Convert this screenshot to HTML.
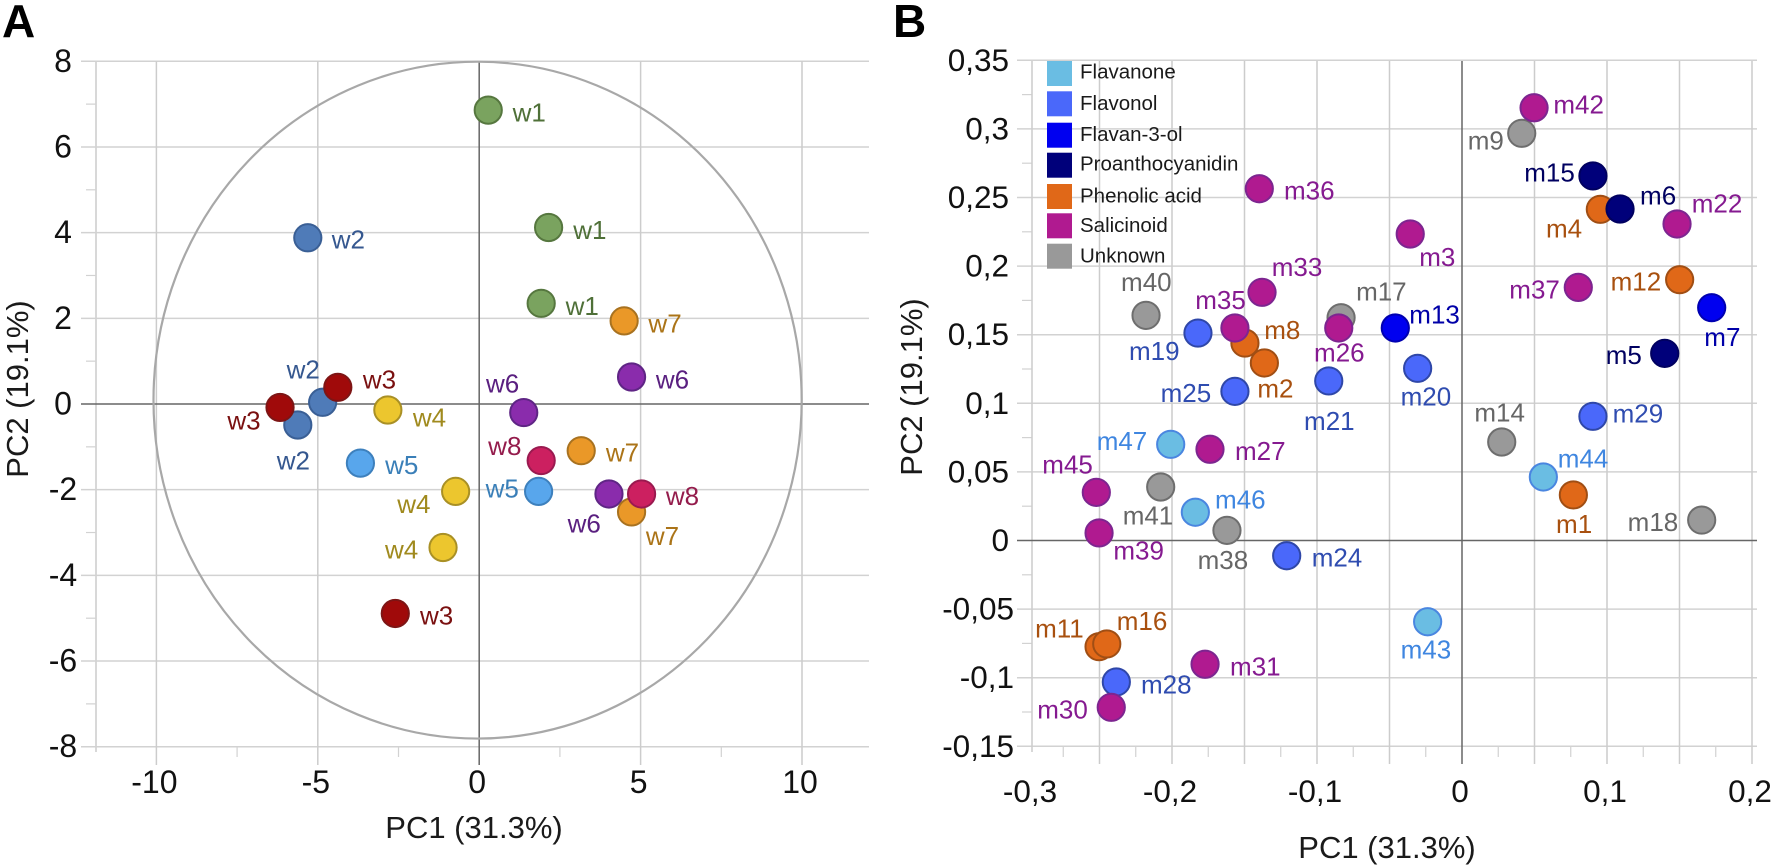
<!DOCTYPE html>
<html lang="en">
<head>
<meta charset="utf-8">
<title>PCA score and loading plots</title>
<style>
  html, body { margin: 0; padding: 0; background: #ffffff; }
  body { width: 1772px; height: 867px; overflow: hidden; }
  svg { display: block; font-family: "Liberation Sans", sans-serif; }
</style>
</head>
<body>
<svg id="figure" xmlns="http://www.w3.org/2000/svg" width="1772" height="867" viewBox="0 0 1772 867">
  <text x="2" y="37" font-size="46" font-weight="700" fill="#000">A</text>
  <text x="893" y="37" font-size="46" font-weight="700" fill="#000">B</text>
  <text x="474" y="838" font-size="31" fill="#1a1a1a" text-anchor="middle">PC1 (31.3%)</text>
  <text transform="translate(28 389) rotate(-90)" font-size="31" fill="#1a1a1a" text-anchor="middle">PC2 (19.1%)</text>
  <text x="1387" y="858" font-size="31" fill="#1a1a1a" text-anchor="middle">PC1 (31.3%)</text>
  <text transform="translate(922 387) rotate(-90)" font-size="31" fill="#1a1a1a" text-anchor="middle">PC2 (19.1%)</text>
  <g id="panelA"></g>
  <g id="panelB"></g>
</svg>
<script>
// ---------- Panel A data ----------
const samplesA = ['w1','w1','w1','w2','w2','w2','w3','w3','w3','w4','w4','w4','w5','w5','w6','w6','w6','w7','w7','w7','w8','w8'];
const pc1A = [0.28,2.15,1.92,-5.31,-4.85,-5.62,-4.38,-6.17,-2.60,-2.83,-0.73,-1.12,-3.68,1.84,4.72,1.38,4.02,4.49,3.16,4.72,1.92,5.03];
const pc2A = [6.86,4.12,2.35,3.88,0.04,-0.49,0.39,-0.08,-4.89,-0.14,-2.04,-3.35,-1.38,-2.04,0.63,-0.20,-2.10,1.94,-1.09,-2.52,-1.32,-2.10];
const xTicksA = [-10,-5,0,5,10];
const xTickLabelsA = ['-10','-5','0','5','10'];
const xMinorA = [-7.5,-2.5,2.5,7.5];
const yTicksA = [8,6,4,2,0,-2,-4,-6,-8];
const yTickLabelsA = ['8','6','4','2','0','-2','-4','-6','-8'];
const yMinorA = [7,5,3,1,-1,-3,-5,-7];
const confidenceCenterA = [-0.05,0.09];
const confidenceRadiiA = [10.04,7.9];

// ---------- Panel B data ----------
const metabolites = ['m1','m2','m3','m4','m5','m6','m7','m8','m9','m11','m12','m13','m14','m15','m16','m17','m18','m19','m20','m21','m22','m24','m25','m26','m27','m28','m29','m30','m31','m33','m35','m36','m37','m38','m39','m40','m41','m42','m43','m44','m45','m46','m47'];
const classesB = ['phenolic','phenolic','salicinoid','phenolic','proantho','proantho','flavanol','phenolic','unknown','phenolic','phenolic','flavanol','unknown','proantho','phenolic','unknown','unknown','flavonol','flavonol','flavonol','salicinoid','flavonol','flavonol','salicinoid','salicinoid','flavonol','flavonol','salicinoid','salicinoid','salicinoid','salicinoid','salicinoid','salicinoid','unknown','salicinoid','unknown','unknown','salicinoid','flavanone','flavanone','salicinoid','flavanone','flavanone'];
const pc1B = [0.0768,-0.1363,-0.0357,0.0954,0.1398,0.1090,0.1722,-0.1497,0.0412,-0.2503,0.1501,-0.0460,0.0274,0.0903,-0.2450,-0.0834,0.1653,-0.1821,-0.0306,-0.0919,0.1483,-0.1209,-0.1566,-0.0850,-0.1738,-0.2384,0.0903,-0.2419,-0.1772,-0.1379,-0.1566,-0.1398,0.0802,-0.1621,-0.2503,-0.2179,-0.2078,0.0497,-0.0237,0.0561,-0.2522,-0.1839,-0.2009];
const pc2B = [0.0332,0.1294,0.2234,0.2414,0.1364,0.2416,0.1697,0.1439,0.2968,-0.0774,0.1901,0.1549,0.0718,0.2657,-0.0754,0.1624,0.0149,0.1512,0.1255,0.1163,0.2307,-0.0111,0.1087,0.1549,0.0665,-0.1031,0.0905,-0.1216,-0.0902,0.1809,0.1549,0.2564,0.1845,0.0074,0.0055,0.1641,0.0390,0.3154,-0.0592,0.0463,0.0351,0.0206,0.0701];
const xTicksB = [-0.3,-0.2,-0.1,0,0.1,0.2];
const xTickLabelsB = ['-0,3','-0,2','-0,1','0','0,1','0,2'];
const xGridB = [-0.3,-0.25,-0.2,-0.15,-0.1,-0.05,0,0.05,0.1,0.15,0.2];
const xMinorB = [-0.275,-0.225,-0.175,-0.125,-0.075,-0.025,0.025,0.075,0.125,0.175];
const yTicksB = [0.35,0.3,0.25,0.2,0.15,0.1,0.05,0,-0.05,-0.1,-0.15];
const yTickLabelsB = ['0,35','0,3','0,25','0,2','0,15','0,1','0,05','0','-0,05','-0,1','-0,15'];
const yMinorB = [0.325,0.275,0.225,0.175,0.125,0.075,0.025,-0.025,-0.075,-0.125];
const legendNames = ['Flavanone','Flavonol','Flavan-3-ol','Proanthocyanidin','Phenolic acid','Salicinoid','Unknown'];
const legendClasses = ['flavanone','flavonol','flavanol','proantho','phenolic','salicinoid','unknown'];

// ---------- Label placement relative to each mark (layout, not data) ----------
const labelDxA = [24.4,24.6,24.4,24,-36,-21,25,-52.7,24.7,25,-58.4,-58,24.7,-53,24.3,-37.7,-41.3,24.3,24.7,14.3,-53,24.3];
const labelDyA = [11.4,11.7,11.7,10.6,-24,44.3,1,22,11,16.7,21.4,11,11,6,11.3,-20,38.7,11.7,11,33,-5.7,11];
const labelDxB = [-17.3,-7,9,-54.3,-59,20,-7.4,19.3,-54,-64,-69,14,-27.4,-68.7,10,15,-74,-69,-17,-24.7,14.7,25,-74.3,-24.7,25,24.7,19.7,-74,25,9.7,-39.7,24.7,-69,-29.3,14.3,-25,-38,19.3,-27,14.4,-54,19.7,-74];
const labelDyB = [38.3,34.3,32,28,10.4,-4.7,38.3,-4.3,16,-9,11,-4.7,-20.3,5.7,-14,-17,11,27,37,49,-11.3,11,10.7,33.7,10.7,11.3,6,11,11.4,-16.3,-19,10.6,11,38.7,26.3,-24.6,37.3,5.6,37,-9.7,-19,-3.6,5.7];

// ---------- Styles ----------
const sampleStyle = {
  w1: {fill:'#7aa35f', stroke:'#56773f', text:'#4f7038'},
  w2: {fill:'#4f7bb8', stroke:'#3a5f95', text:'#35578f'},
  w3: {fill:'#a00a0a', stroke:'#7d1515', text:'#7a1010'},
  w4: {fill:'#ecc62e', stroke:'#a99025', text:'#a08a1e'},
  w5: {fill:'#58a6ec', stroke:'#3d80bd', text:'#3a7fb8'},
  w6: {fill:'#8a2cac', stroke:'#5f2585', text:'#5a2080'},
  w7: {fill:'#ea9828', stroke:'#a87220', text:'#ab7418'},
  w8: {fill:'#cc2060', stroke:'#9a1a50', text:'#941c4c'}
};
const classStyle = {
  flavanone:  {fill:'#6abde3', stroke:'#4a86e0', text:'#3f86e0'},
  flavonol:   {fill:'#4a68fa', stroke:'#2f47a8', text:'#2f4cb0'},
  flavanol:   {fill:'#0000f0', stroke:'#0000b0', text:'#0000a8'},
  proantho:   {fill:'#00007a', stroke:'#000060', text:'#000060'},
  phenolic:   {fill:'#e06818', stroke:'#a04e14', text:'#a8500f'},
  salicinoid: {fill:'#b01a90', stroke:'#7d2590', text:'#851a90'},
  unknown:    {fill:'#999999', stroke:'#6e6e6e', text:'#666666'}
};
const GRID = '#d2d2d2';
const ZERO = '#666666';
const NS = 'http://www.w3.org/2000/svg';

// ---------- Axis functions ----------
const xA = v => 479.2 + 32.28 * v;
const yA = v => 404 - 42.84 * v;
const xB = v => Math.max(1032, 1462 + 1450 * v);
const yB = v => 540.5 - 1372 * v;

function make(tag, attrs, parent) {
  const node = document.createElementNS(NS, tag);
  for (const k in attrs) node.setAttribute(k, attrs[k]);
  parent.appendChild(node);
  return node;
}
function line(parent, x1, y1, x2, y2, color, width, name) {
  const el = make('line', {x1, y1, x2, y2, stroke: color, 'stroke-width': width}, parent);
  
  
  return el;
}
function label(parent, x, y, str, size, color, anchor, name) {
  const el = make('text', {x, y, 'font-size': size, fill: color, 'text-anchor': anchor}, parent);
  el.textContent = str;
  
  
  return el;
}
function point(parent, cx, cy, style, name) {
  const el = make('circle', {cx, cy, r: 13.6, fill: style.fill, stroke: style.stroke, 'stroke-width': 2}, parent);
  
  
  return el;
}

// ---------- Panel A ----------
(function () {
  const g = document.getElementById('panelA');
  const top = yA(8), bottom = yA(-8), left = 96, right = 869;
  line(g, left, top, left, 752, '#cccccc', 1.5, 'panel-a-left-axis');
  yTicksA.forEach((v, i) => {
    if (v !== 0) line(g, 81, yA(v), right, yA(v), GRID, 1.5, 'panel-a-y-gridline');
    label(g, 63, yA(v) + 10.5, yTickLabelsA[i], 32, '#111', 'middle', 'panel-a-y-tick-label');
  });
  yMinorA.forEach(v => {
    line(g, 86, yA(v), left, yA(v), GRID, 1.2, 'panel-a-y-minor-tick');
  });
  xTicksA.forEach((v, i) => {
    if (v !== 0) line(g, xA(v), top, xA(v), 765, '#cccccc', 1.5, 'panel-a-x-gridline');
    label(g, xA(v) - 2, 793, xTickLabelsA[i], 32, '#111', 'middle', 'panel-a-x-tick-label');
  });
  xMinorA.forEach(v => {
    line(g, xA(v), bottom, xA(v), 757, GRID, 1.2, 'panel-a-x-minor-tick');
  });
  line(g, 81, yA(0), right, yA(0), ZERO, 1.5, 'panel-a-horizontal-zero-line');
  line(g, xA(0), top, xA(0), 765, ZERO, 1.5, 'panel-a-vertical-zero-line');

  const ellipse = make('ellipse', {
    cx: xA(confidenceCenterA[0]),
    cy: yA(confidenceCenterA[1]),
    rx: xA(confidenceRadiiA[0]) - xA(0),
    ry: yA(0) - yA(confidenceRadiiA[1]),
    fill: 'none', stroke: '#a8a8a8', 'stroke-width': 2.2
  }, g);
  
  

  samplesA.forEach((s, i) => {
    point(g, xA(pc1A[i]), yA(pc2A[i]), sampleStyle[s], 'sample-point-' + s);
  });
  samplesA.forEach((s, i) => {
    label(g, xA(pc1A[i]) + labelDxA[i], yA(pc2A[i]) + labelDyA[i], s, 26, sampleStyle[s].text, 'start', 'sample-label-' + s);
  });
})();

// ---------- Panel B ----------
(function () {
  const g = document.getElementById('panelB');
  const top = 61, bottom = 747, left = 1032, right = 1757;
  yTicksB.forEach((v, i) => {
    if (v !== 0) line(g, 1017, yB(v), right, yB(v), GRID, 1.5, 'panel-b-y-gridline');
    label(g, v < 0 ? 1014 : 1009, yB(v) + 10.5, yTickLabelsB[i], 31.5, '#111', 'end', 'panel-b-y-tick-label');
  });
  yMinorB.forEach(v => {
    line(g, 1022, yB(v), left, yB(v), GRID, 1.2, 'panel-b-y-minor-tick');
  });
  xGridB.forEach(v => {
    if (v !== 0) line(g, xB(v), top, xB(v), v === -0.3 ? 752 : 764, '#cccccc', 1.5, 'panel-b-x-gridline');
  });
  xTicksB.forEach((v, i) => {
    label(g, xB(v) - 2, 802, xTickLabelsB[i], 31.5, '#111', 'middle', 'panel-b-x-tick-label');
  });
  xMinorB.forEach(v => {
    line(g, xB(v), bottom, xB(v), 757, GRID, 1.2, 'panel-b-x-minor-tick');
  });
  line(g, 1017, yB(0), right, yB(0), ZERO, 1.5, 'panel-b-horizontal-zero-line');
  line(g, xB(0), top, xB(0), 764, ZERO, 1.5, 'panel-b-vertical-zero-line');

  // legend
  const swatchTops = [61, 91.3, 122.7, 152.7, 184, 213.3, 243.7];
  const legendBase = [78.3, 110, 141, 170.7, 202.7, 232, 262.7];
  legendNames.forEach((name, i) => {
    const sw = make('rect', {x: 1047, y: swatchTops[i], width: 25, height: 25, fill: classStyle[legendClasses[i]].fill}, g);
    
    
    label(g, 1080, legendBase[i], name, 20.5, '#1a1a1a', 'start', 'legend-label-' + legendClasses[i]);
  });

  metabolites.forEach((m, i) => {
    point(g, xB(pc1B[i]), yB(pc2B[i]), classStyle[classesB[i]], 'metabolite-point-' + m);
  });
  metabolites.forEach((m, i) => {
    label(g, xB(pc1B[i]) + labelDxB[i], yB(pc2B[i]) + labelDyB[i], m, 26, classStyle[classesB[i]].text, 'start', 'metabolite-label-' + m);
  });
})();
</script>
</body>
</html>
